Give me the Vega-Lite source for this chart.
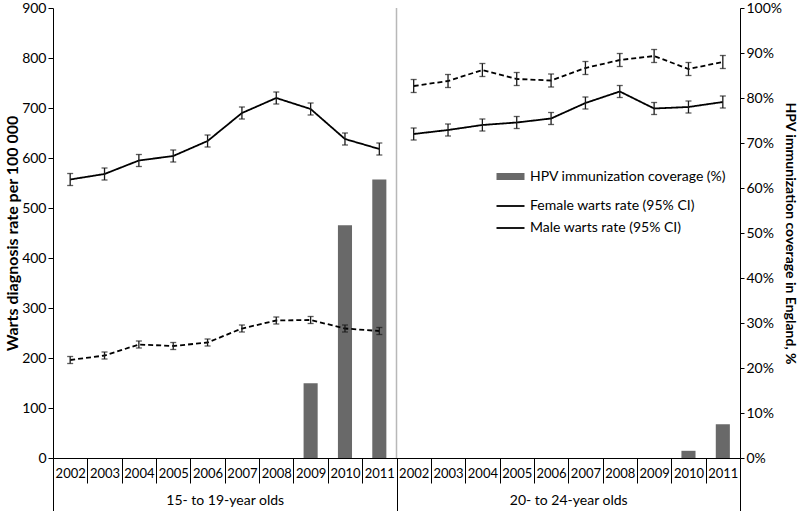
{
  "$schema": "https://vega.github.io/schema/vega-lite/v6.json",
  "width": 687,
  "height": 450,
  "autosize": "none",
  "padding": {"left": 53, "top": 8, "right": 59, "bottom": 53},
  "config": {
    "font": "Lato",
    "view": {"stroke": null},
    "axis": {"labelFont": "Lato", "titleFont": "Lato", "labelColor": "black", "titleColor": "black", "domainColor": "black", "tickColor": "black", "grid": false},
    "legend": {"labelFont": "Lato", "labelColor": "black", "labelLimit": 0}
  },
  "datasets": {
    "rates": [
      {"group": "15- to 19-year olds", "cat": "a2002", "series": "Female warts rate (95% CI)", "rate": 557, "lo": 545, "hi": 569},
      {"group": "15- to 19-year olds", "cat": "a2003", "series": "Female warts rate (95% CI)", "rate": 568, "lo": 556, "hi": 580},
      {"group": "15- to 19-year olds", "cat": "a2004", "series": "Female warts rate (95% CI)", "rate": 595, "lo": 583, "hi": 607},
      {"group": "15- to 19-year olds", "cat": "a2005", "series": "Female warts rate (95% CI)", "rate": 604, "lo": 592, "hi": 616},
      {"group": "15- to 19-year olds", "cat": "a2006", "series": "Female warts rate (95% CI)", "rate": 634, "lo": 622, "hi": 646},
      {"group": "15- to 19-year olds", "cat": "a2007", "series": "Female warts rate (95% CI)", "rate": 690, "lo": 678, "hi": 702},
      {"group": "15- to 19-year olds", "cat": "a2008", "series": "Female warts rate (95% CI)", "rate": 720, "lo": 708, "hi": 732},
      {"group": "15- to 19-year olds", "cat": "a2009", "series": "Female warts rate (95% CI)", "rate": 698, "lo": 686, "hi": 710},
      {"group": "15- to 19-year olds", "cat": "a2010", "series": "Female warts rate (95% CI)", "rate": 638, "lo": 626, "hi": 650},
      {"group": "15- to 19-year olds", "cat": "a2011", "series": "Female warts rate (95% CI)", "rate": 618, "lo": 606, "hi": 630},
      {"group": "15- to 19-year olds", "cat": "a2002", "series": "Male warts rate (95% CI)", "rate": 196, "lo": 189, "hi": 203},
      {"group": "15- to 19-year olds", "cat": "a2003", "series": "Male warts rate (95% CI)", "rate": 205, "lo": 198, "hi": 212},
      {"group": "15- to 19-year olds", "cat": "a2004", "series": "Male warts rate (95% CI)", "rate": 227, "lo": 220, "hi": 234},
      {"group": "15- to 19-year olds", "cat": "a2005", "series": "Male warts rate (95% CI)", "rate": 224, "lo": 217, "hi": 231},
      {"group": "15- to 19-year olds", "cat": "a2006", "series": "Male warts rate (95% CI)", "rate": 231, "lo": 224, "hi": 238},
      {"group": "15- to 19-year olds", "cat": "a2007", "series": "Male warts rate (95% CI)", "rate": 259, "lo": 252, "hi": 266},
      {"group": "15- to 19-year olds", "cat": "a2008", "series": "Male warts rate (95% CI)", "rate": 275, "lo": 268, "hi": 282},
      {"group": "15- to 19-year olds", "cat": "a2009", "series": "Male warts rate (95% CI)", "rate": 276, "lo": 269, "hi": 283},
      {"group": "15- to 19-year olds", "cat": "a2010", "series": "Male warts rate (95% CI)", "rate": 259, "lo": 252, "hi": 266},
      {"group": "15- to 19-year olds", "cat": "a2011", "series": "Male warts rate (95% CI)", "rate": 254, "lo": 247, "hi": 261},
      {"group": "20- to 24-year olds", "cat": "b2002", "series": "Female warts rate (95% CI)", "rate": 648, "lo": 636, "hi": 660},
      {"group": "20- to 24-year olds", "cat": "b2003", "series": "Female warts rate (95% CI)", "rate": 656, "lo": 644, "hi": 668},
      {"group": "20- to 24-year olds", "cat": "b2004", "series": "Female warts rate (95% CI)", "rate": 666, "lo": 654, "hi": 678},
      {"group": "20- to 24-year olds", "cat": "b2005", "series": "Female warts rate (95% CI)", "rate": 671, "lo": 659, "hi": 683},
      {"group": "20- to 24-year olds", "cat": "b2006", "series": "Female warts rate (95% CI)", "rate": 679, "lo": 667, "hi": 691},
      {"group": "20- to 24-year olds", "cat": "b2007", "series": "Female warts rate (95% CI)", "rate": 710, "lo": 698, "hi": 722},
      {"group": "20- to 24-year olds", "cat": "b2008", "series": "Female warts rate (95% CI)", "rate": 733, "lo": 721, "hi": 745},
      {"group": "20- to 24-year olds", "cat": "b2009", "series": "Female warts rate (95% CI)", "rate": 699, "lo": 687, "hi": 711},
      {"group": "20- to 24-year olds", "cat": "b2010", "series": "Female warts rate (95% CI)", "rate": 702, "lo": 690, "hi": 714},
      {"group": "20- to 24-year olds", "cat": "b2011", "series": "Female warts rate (95% CI)", "rate": 712, "lo": 700, "hi": 724},
      {"group": "20- to 24-year olds", "cat": "b2002", "series": "Male warts rate (95% CI)", "rate": 744, "lo": 731, "hi": 757},
      {"group": "20- to 24-year olds", "cat": "b2003", "series": "Male warts rate (95% CI)", "rate": 754, "lo": 741, "hi": 767},
      {"group": "20- to 24-year olds", "cat": "b2004", "series": "Male warts rate (95% CI)", "rate": 776, "lo": 763, "hi": 789},
      {"group": "20- to 24-year olds", "cat": "b2005", "series": "Male warts rate (95% CI)", "rate": 758, "lo": 745, "hi": 771},
      {"group": "20- to 24-year olds", "cat": "b2006", "series": "Male warts rate (95% CI)", "rate": 755, "lo": 742, "hi": 768},
      {"group": "20- to 24-year olds", "cat": "b2007", "series": "Male warts rate (95% CI)", "rate": 780, "lo": 767, "hi": 793},
      {"group": "20- to 24-year olds", "cat": "b2008", "series": "Male warts rate (95% CI)", "rate": 796, "lo": 783, "hi": 809},
      {"group": "20- to 24-year olds", "cat": "b2009", "series": "Male warts rate (95% CI)", "rate": 804, "lo": 791, "hi": 817},
      {"group": "20- to 24-year olds", "cat": "b2010", "series": "Male warts rate (95% CI)", "rate": 778, "lo": 765, "hi": 791},
      {"group": "20- to 24-year olds", "cat": "b2011", "series": "Male warts rate (95% CI)", "rate": 792, "lo": 779, "hi": 805}
    ],
    "hpv": [
      {"group": "15- to 19-year olds", "cat": "a2009", "series": "HPV immunization coverage (%)", "hpv": 16.6},
      {"group": "15- to 19-year olds", "cat": "a2010", "series": "HPV immunization coverage (%)", "hpv": 51.7},
      {"group": "15- to 19-year olds", "cat": "a2011", "series": "HPV immunization coverage (%)", "hpv": 61.9},
      {"group": "20- to 24-year olds", "cat": "b2010", "series": "HPV immunization coverage (%)", "hpv": 1.6},
      {"group": "20- to 24-year olds", "cat": "b2011", "series": "HPV immunization coverage (%)", "hpv": 7.5}
    ],
    "groups": [
      {"group": "20- to 24-year olds"}
    ]
  },
  "layer": [
    {
      "data": {"name": "hpv"},
      "mark": {"type": "bar", "width": {"band": 0.41}},
      "encoding": {
        "x": {
          "field": "cat", "type": "nominal",
          "scale": {"type": "band", "domain": ["a2002","a2003","a2004","a2005","a2006","a2007","a2008","a2009","a2010","a2011","b2002","b2003","b2004","b2005","b2006","b2007","b2008","b2009","b2010","b2011"], "paddingInner": 0, "paddingOuter": 0},
          "axis": {"orient": "bottom", "title": null, "labelExpr": "substring(datum.label, 1)", "tickBand": "extent", "tickSize": 25, "labelPadding": -16, "labelFontSize": 13, "labelAngle": 0, "domainColor": "black", "tickColor": "black"}
        },
        "y": {
          "field": "hpv", "type": "quantitative",
          "scale": {"domain": [0, 100]},
          "axis": {"orient": "right", "values": [0,10,20,30,40,50,60,70,80,90,100], "labelExpr": "datum.value + '%'", "title": "HPV immunization coverage in England, %", "titleFontSize": 14, "titleFontWeight": "bold", "labelFontSize": 14, "tickSize": 4, "titlePadding": 1}
        },
        "color": {
          "field": "series", "type": "nominal",
          "scale": {"domain": ["HPV immunization coverage (%)", "Female warts rate (95% CI)", "Male warts rate (95% CI)"], "range": ["#696969", "#000000", "#000000"]},
          "legend": {"title": null, "orient": "none", "legendX": 440, "legendY": 151, "symbolType": "stroke", "symbolSize": 784, "labelFontSize": 14, "rowPadding": -5, "labelOffset": 2}
        }
      }
    },
    {
      "data": {"name": "rates"},
      "mark": {"type": "line"},
      "encoding": {
        "x": {
          "field": "cat", "type": "nominal",
          "scale": {"type": "band", "domain": ["a2002","a2003","a2004","a2005","a2006","a2007","a2008","a2009","a2010","a2011","b2002","b2003","b2004","b2005","b2006","b2007","b2008","b2009","b2010","b2011"], "paddingInner": 0, "paddingOuter": 0},
          "axis": null
        },
        "y": {
          "field": "rate", "type": "quantitative",
          "scale": {"domain": [0, 900]},
          "axis": {"orient": "left", "values": [0,100,200,300,400,500,600,700,800,900], "title": "Warts diagnosis rate per 100 000", "titleFontSize": 16, "titleFontWeight": "bold", "labelFontSize": 14, "tickSize": 5, "titlePadding": 1, "zindex": 1}
        },
        "detail": {"field": "group"},
        "color": {
          "field": "series", "type": "nominal",
          "scale": {"domain": ["HPV immunization coverage (%)", "Female warts rate (95% CI)", "Male warts rate (95% CI)"], "range": ["#696969", "#000000", "#000000"]},
          "legend": {"title": null, "orient": "none", "legendX": 440, "legendY": 151, "symbolType": "stroke", "symbolSize": 784, "labelFontSize": 14, "rowPadding": -5, "labelOffset": 2}
        },
        "strokeWidth": {
          "field": "series", "type": "ordinal",
          "scale": {"type": "ordinal", "domain": ["HPV immunization coverage (%)", "Female warts rate (95% CI)", "Male warts rate (95% CI)"], "range": [7, 1.8, 1.8]},
          "legend": {"title": null, "orient": "none", "legendX": 440, "legendY": 151, "symbolType": "stroke", "symbolSize": 784, "labelFontSize": 14, "rowPadding": -5, "labelOffset": 2}
        },
        "strokeDash": {
          "field": "series", "type": "nominal",
          "scale": {"domain": ["Female warts rate (95% CI)", "Male warts rate (95% CI)"], "range": [[1, 0], [5, 3]]},
          "legend": null
        }
      }
    },
    {
      "data": {"name": "rates"},
      "mark": {"type": "errorbar", "ticks": {"size": 6}, "color": "#1a1a1a", "thickness": 1.3},
      "encoding": {
        "x": {
          "field": "cat", "type": "nominal",
          "scale": {"type": "band", "domain": ["a2002","a2003","a2004","a2005","a2006","a2007","a2008","a2009","a2010","a2011","b2002","b2003","b2004","b2005","b2006","b2007","b2008","b2009","b2010","b2011"], "paddingInner": 0, "paddingOuter": 0},
          "axis": null
        },
        "y": {"field": "lo", "type": "quantitative", "scale": {"domain": [0, 900]}, "axis": null},
        "y2": {"field": "hi"}
      }
    },
    {
      "data": {"name": "groups"},
      "mark": {"type": "rule", "color": "#b8b8b8", "strokeWidth": 1.5},
      "encoding": {
        "x": {
          "field": "group", "type": "nominal", "bandPosition": 0,
          "scale": {"type": "band", "domain": ["15- to 19-year olds", "20- to 24-year olds"], "paddingInner": 0, "paddingOuter": 0},
          "axis": {"orient": "bottom", "title": null, "tickBand": "extent", "tickSize": 60, "labelPadding": -25, "domain": false, "labelFontSize": 14, "labelAngle": 0, "tickColor": "black"}
        }
      }
    }
  ],
  "resolve": {"scale": {"x": "independent", "y": "independent"}}
}
